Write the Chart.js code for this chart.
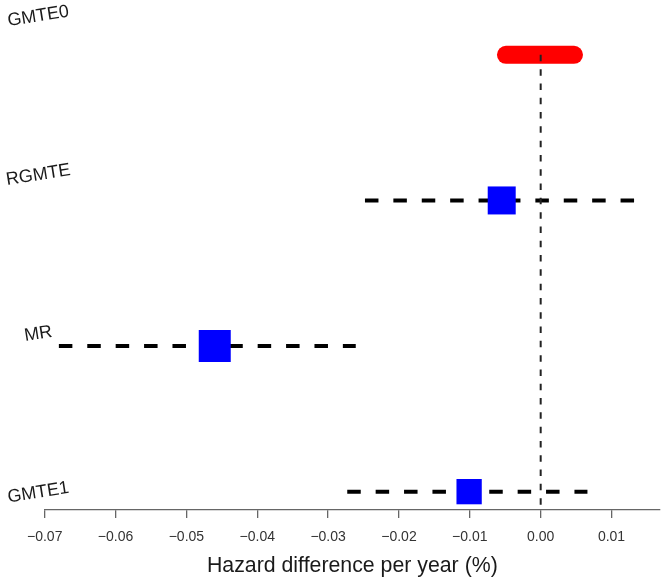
<!DOCTYPE html>
<html><head><meta charset="utf-8">
<script src="https://cdn.jsdelivr.net/npm/chart.js@4.4.1/dist/chart.umd.min.js"></script>
<style>html,body{margin:0;padding:0;background:#fff}#wrap{width:666px;height:584px;position:relative}</style>
</head><body><div id="wrap"><canvas id="c"></canvas></div>
<script>
// ---- data (bottom row first) ----
const categories   = ['GMTE1', 'MR', 'RGMTE', 'GMTE0'];
const rowPositions = [1, 2, 3, 4];
const estimates    = [-0.0101, -0.0460, -0.0055, null];
const lowerCI      = [-0.0273, -0.0680, -0.0248, -0.0049];
const upperCI      = [0.0066, -0.0261, 0.0132, 0.0047];
const xTickValues  = [-0.07, -0.06, -0.05, -0.04, -0.03, -0.02, -0.01, 0.00, 0.01];
const refLineX     = 0;
const xTitle       = 'Hazard difference per year (%)';

// ---- layout / style ----
const X_MIN = -0.07, X_MAX = 0.01684;
const Y_MIN = 0.874, Y_MAX = 4.308;
const YL_MIN = 0.891, YL_MAX = 4.040;
const squareSides = [25.3, 32, 28];
const FONT = "'Liberation Sans', Arial, Helvetica, sans-serif";
const LABEL_X = 38.3, LABEL_ROT = 9, LABEL_SIZE = 18;

const datasets = [];
rowPositions.forEach((r, i) => {
  const seg = [{x: lowerCI[i], y: r}, {x: upperCI[i], y: r}];
  if (estimates[i] === null) {
    datasets.push({type: 'line', data: seg, borderColor: '#FF0000', borderWidth: 18,
      borderCapStyle: 'round', pointRadius: 0, order: 2, clip: false});
  } else {
    datasets.push({type: 'line', data: seg, borderColor: '#000000', borderWidth: 4,
      borderDash: [13.5, 14.9], borderCapStyle: 'butt', pointRadius: 0, order: 3, clip: false});
  }
});
const refRow = rowPositions[estimates.indexOf(null)];
datasets.push({type: 'line', data: [{x: refLineX, y: refRow}, {x: refLineX, y: Y_MIN}],
  borderColor: '#222222', borderWidth: 2, borderDash: [6.5, 7.8], pointRadius: 0, order: 1, clip: false});
const pts = [];
rowPositions.forEach((r, i) => { if (estimates[i] !== null) pts.push({x: estimates[i], y: r}); });
datasets.push({type: 'scatter', data: pts, pointStyle: 'rect',
  pointRadius: squareSides.map(s => s / (2 * Math.SQRT1_2)),
  pointBackgroundColor: '#0000FF', pointBorderWidth: 0, borderColor: '#0000FF', order: 0, clip: false});

const fmt = v => {
  const a = Math.abs(v).toFixed(2);
  return v < -1e-9 ? '\u2212' + a : a;
};

// category labels drawn at the positions of the (hidden) label axis
const rowLabelPlugin = {
  id: 'rowLabels',
  afterDraw(chart) {
    const s = chart.scales.yl, ctx = chart.ctx;
    ctx.save();
    ctx.font = LABEL_SIZE + 'px ' + FONT;
    ctx.fillStyle = '#1a1a1a';
    ctx.textAlign = 'center';
    ctx.textBaseline = 'middle';
    rowPositions.forEach((p, i) => {
      ctx.save();
      ctx.translate(LABEL_X, s.getPixelForValue(p));
      ctx.rotate(-LABEL_ROT * Math.PI / 180);
      ctx.fillText(categories[i], 0, 0);
      ctx.restore();
    });
    ctx.restore();
  }
};

new Chart(document.getElementById('c'), {
  data: {datasets},
  plugins: [rowLabelPlugin],
  options: {
    responsive: true, maintainAspectRatio: false, animation: false,
    layout: {autoPadding: false, padding: {top: 10, right: 6, bottom: 0, left: 44.7}},
    plugins: {legend: {display: false}, tooltip: {enabled: false}},
    scales: {
      x: {
        type: 'linear', position: 'bottom', min: X_MIN, max: X_MAX,
        afterBuildTicks: s => { s.ticks = xTickValues.map(v => ({value: v})); },
        afterFit: s => { s.height = 74; },
        grid: {drawOnChartArea: false, drawTicks: true, tickLength: 8, color: '#666666', lineWidth: 1.3},
        border: {display: true, color: '#666666', width: 1.3},
        ticks: {callback: v => fmt(v), font: {family: FONT, size: 14}, color: '#333333',
          padding: 10.6, autoSkip: false, maxRotation: 0},
        title: {display: true, text: xTitle, font: {family: FONT, size: 21.3}, color: '#1a1a1a',
          padding: {top: 8, bottom: 5.4}}
      },
      y: {type: 'linear', min: Y_MIN, max: Y_MAX, display: false},
      yl: {type: 'linear', position: 'left', min: YL_MIN, max: YL_MAX, display: false}
    }
  }
});
</script></body></html>
